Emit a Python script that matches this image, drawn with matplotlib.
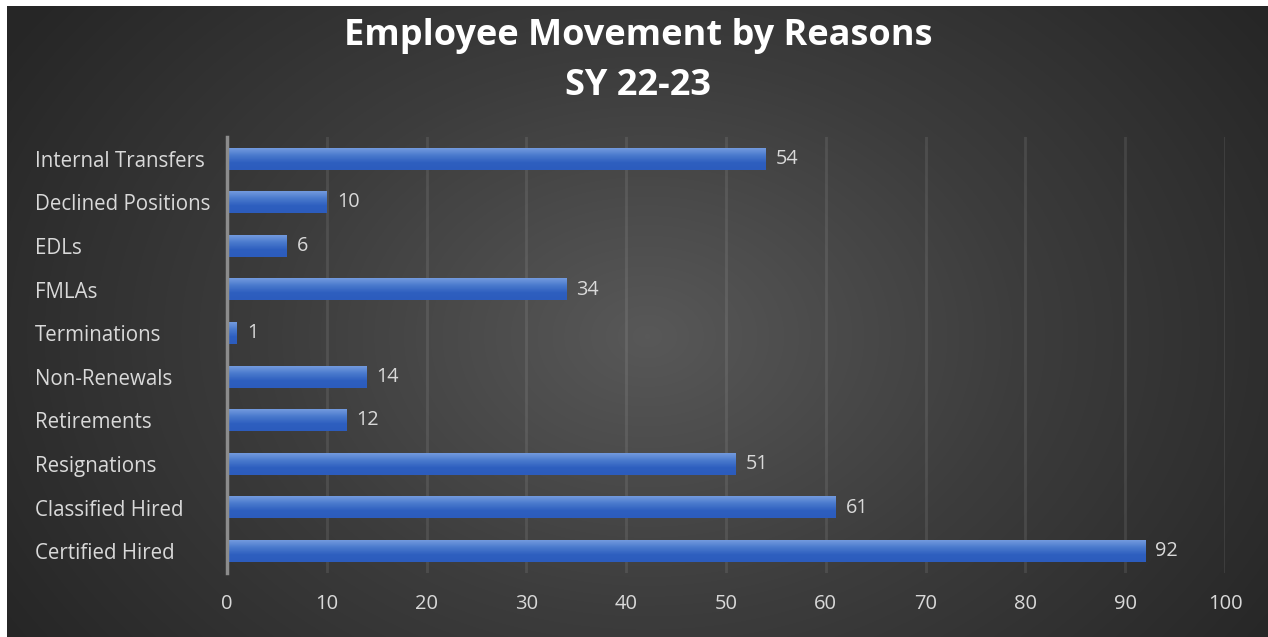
import numpy as np
import matplotlib.pyplot as plt
from matplotlib.colors import LinearSegmentedColormap

# --- data ---
categories = ["Certified Hired", "Classified Hired", "Resignations", "Retirements",
              "Non-Renewals", "Terminations", "FMLAs", "EDLs",
              "Declined Positions", "Internal Transfers"]
counts = [92, 61, 51, 12, 14, 1, 34, 6, 10, 54]
x_ticks = [0, 10, 20, 30, 40, 50, 60, 70, 80, 90, 100]

W, H = 1268, 637
fig = plt.figure(figsize=(W / 100, H / 100), dpi=100)
fig.patch.set_facecolor("white")

# dark radial background (leaves a thin white strip on top/left)
bg = fig.add_axes([7 / W, 0, 1 - 7 / W, 631 / H])
bg.set_axis_off()
yy, xx = np.mgrid[0:631, 0:1261]
r = np.sqrt(((xx - 640) / 760) ** 2 + ((yy - 330) / 560) ** 2)
r = np.clip(r, 0, 1)
bg_cmap = LinearSegmentedColormap.from_list("bg", ["#585858", "#3c3c3c", "#262626"])
bg.imshow(r, cmap=bg_cmap, aspect="auto", interpolation="bilinear", vmin=0, vmax=1)

# main plot area
left, right = 227 / W, 1225 / W
top, bottom = 1 - 137 / H, 1 - 573 / H
ax = fig.add_axes([left, bottom, right - left, top - bottom])
ax.set_facecolor("none")

y = np.arange(len(categories))
bars = ax.barh(y, counts, height=0.5, color="#4472c4", zorder=3)

# vertical gradient inside each bar
grad = np.linspace(0, 1, 64).reshape(-1, 1)
bar_cmap = LinearSegmentedColormap.from_list("bar", ["#739ade", "#4a7acd", "#2e5fbf", "#2c5cbd"])
for b in bars:
    x0, y0 = b.get_x(), b.get_y()
    w, h = b.get_width(), b.get_height()
    ax.imshow(grad, cmap=bar_cmap, aspect="auto", interpolation="bilinear",
              extent=[x0, x0 + w, y0, y0 + h], origin="upper", zorder=4)
    b.set_visible(False)

for yi, v in zip(y, counts):
    ax.text(v + 1, yi, str(v), va="center", ha="left", color="#d9d9d9",
            fontsize=14.3, family="Open Sans", zorder=5)

ax.set_xlim(0, 100)
ax.set_ylim(-0.5, len(categories) - 0.5)
ax.set_xticks(x_ticks)
ax.set_xticklabels([str(t) for t in x_ticks], color="#d9d9d9", fontsize=14.5, family="Open Sans")
ax.set_yticks(y)
ax.set_yticklabels(categories, color="#d9d9d9", fontsize=14.8, family="Open Sans", ha="left")
ax.tick_params(axis="y", length=0, pad=138)
ax.tick_params(axis="x", length=0, pad=15)
ax.grid(axis="x", color="white", alpha=0.09, linewidth=2, zorder=1)
for s in ["top", "right", "bottom"]:
    ax.spines[s].set_visible(False)
ax.spines["left"].set_color("#8c8c8c")
ax.spines["left"].set_linewidth(2.5)
ax.spines["left"].set_zorder(6)

fig.text(0.503, 1 - 61 / H, "Employee Movement by Reasons\nSY 22-23", ha="center", va="center",
         color="white", fontsize=26, fontweight="bold", family="Open Sans", linespacing=1.5)

fig.savefig("out.png", dpi=100, facecolor=fig.get_facecolor())
